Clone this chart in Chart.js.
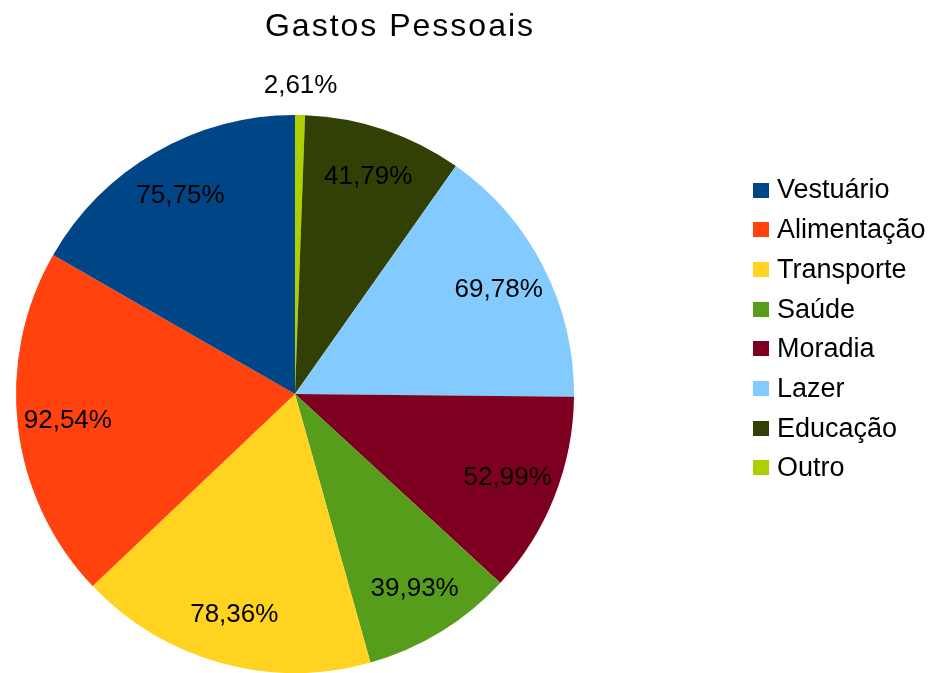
<!DOCTYPE html>
<html>
<head>
<meta charset="utf-8">
<script src="https://cdn.jsdelivr.net/npm/chart.js@4.4.1/dist/chart.umd.min.js"></script>
<style>
html,body{margin:0;padding:0;background:#ffffff;}
#wrap{width:936px;height:673px;position:relative;}
canvas{display:block;}
</style>
</head>
<body>
<div id="wrap"><canvas id="c" width="936" height="673"></canvas></div>
<script>
const chartTitle = 'Gastos Pessoais';
const categories = ['Vestuário', 'Alimentação', 'Transporte', 'Saúde', 'Moradia', 'Lazer', 'Educação', 'Outro'];
const values = [75.75, 92.54, 78.36, 39.93, 52.99, 69.78, 41.79, 2.61];
const colors = ['#004586', '#ff420e', '#ffd320', '#579d1c', '#7e0021', '#83caff', '#314004', '#aecf00'];

const FONT = '"Liberation Sans", Arial, sans-serif';

function fmt(v) {
  return v.toFixed(2).replace('.', ',') + '%';
}

// The reference runs counter-clockwise from 12 o'clock; Chart.js runs clockwise,
// so the dataset is fed in reverse order.
const pieLabels = categories.slice().reverse();
const pieValues = values.slice().reverse();
const pieColors = colors.slice().reverse();

const labelPlugin = {
  id: 'sliceLabels',
  afterDatasetsDraw(chart) {
    const ctx = chart.ctx;
    const meta = chart.getDatasetMeta(0);
    const data = chart.data.datasets[0].data;
    const total = data.reduce((a, b) => a + b, 0);
    ctx.save();
    ctx.font = '26px ' + FONT;
    ctx.fillStyle = '#000000';
    ctx.textAlign = 'center';
    ctx.textBaseline = 'middle';
    meta.data.forEach((arc, i) => {
      const p = arc.getProps(['x', 'y', 'startAngle', 'endAngle', 'outerRadius'], true);
      const mid = (p.startAngle + p.endAngle) / 2;
      const frac = data[i] / total;
      const r = frac < 0.03 ? p.outerRadius + 29 : p.outerRadius * 0.82;
      const x = p.x + Math.cos(mid) * r;
      const y = p.y + Math.sin(mid) * r;
      ctx.fillText(fmt(data[i]), x, y);
    });
    ctx.restore();
  }
};

const decorPlugin = {
  id: 'decor',
  afterDraw(chart) {
    const ctx = chart.ctx;
    ctx.save();
    // title
    ctx.font = '32px ' + FONT;
    ctx.letterSpacing = '2px';
    ctx.fillStyle = '#000000';
    ctx.textAlign = 'center';
    ctx.textBaseline = 'middle';
    ctx.fillText(chartTitle, 400, 27);
    // legend
    ctx.font = '27px ' + FONT;
    ctx.letterSpacing = '0px';
    ctx.textAlign = 'left';
    categories.forEach((name, i) => {
      const cy = 190 + i * 39.7;
      ctx.fillStyle = colors[i];
      ctx.fillRect(753, Math.round(cy - 7.5), 16, 15);
      ctx.fillStyle = '#000000';
      ctx.fillText(name, 777, cy + 1);
    });
    ctx.restore();
  }
};

new Chart(document.getElementById('c'), {
  type: 'pie',
  data: {
    labels: pieLabels,
    datasets: [{
      data: pieValues,
      backgroundColor: pieColors,
      borderWidth: 0,
      hoverOffset: 0,
      offset: 0
    }]
  },
  options: {
    responsive: false,
    animation: false,
    events: [],
    rotation: 0,
    layout: { padding: { top: 115, left: 16, right: 362, bottom: 0 } },
    plugins: {
      legend: { display: false },
      title: { display: false },
      tooltip: { enabled: false }
    }
  },
  plugins: [labelPlugin, decorPlugin]
});
</script>
</body>
</html>
